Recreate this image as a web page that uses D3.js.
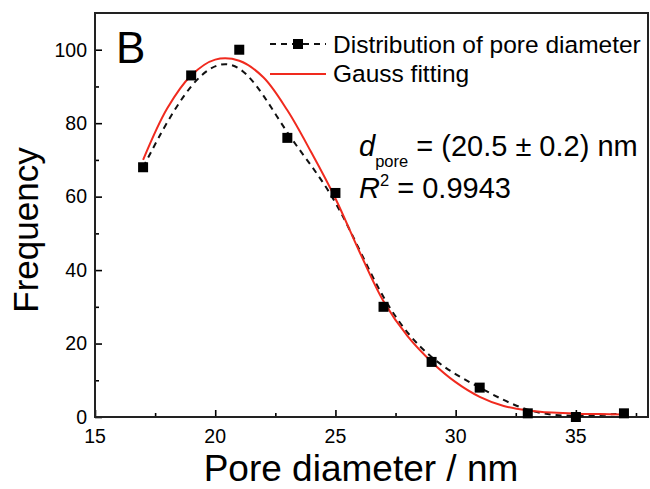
<!DOCTYPE html>
<html>
<head>
<meta charset="utf-8">
<script src="https://cdn.jsdelivr.net/npm/d3@7/dist/d3.min.js"></script>
<style>
    body { margin: 0; background: #fff; }
    svg text { font-family: Arial, "Liberation Sans", sans-serif; fill: #000; }
</style>
</head>
<body>
<svg class="chart"></svg>
<script>
// Graphic dimensions
var width = 650;
var height = 489;
var margin = {top: 13, right: 2, bottom: 72, left: 95};
var w = width - margin.left - margin.right;
var h = height - margin.top - margin.bottom;

// measured pore diameters (nm) and counts
var diameters = [17, 19, 21, 23, 25, 27, 29, 31, 33, 35, 37];
var frequency = [68, 93, 100, 76, 61, 30, 15, 8, 1, 0, 1];

// Gauss fitting curve
var fitX = [17, 18, 19, 20, 21, 22, 23, 24, 25, 26, 27, 28, 29, 30, 31, 32, 33, 34, 35, 36, 37];
var fitY = [70, 84, 93, 97.3, 97, 92.5, 83.5, 72, 59.5, 45, 31.5, 22, 15, 9.5, 5.5, 3, 1.8, 1.2, 0.9, 0.8, 0.7];

var xTicks = [15, 20, 25, 30, 35];
var yTicks = [0, 20, 40, 60, 80, 100];

var svg = d3.select(".chart")
    .attr("width", width)
    .attr("height", height);

var chart = svg.append("g")
    .attr("transform", "translate(" + margin.left + "," + margin.top + ")");

var x = d3.scaleLinear()
    .domain([15, 38])
    .range([0, w]);

var y = d3.scaleLinear()
    .domain([0, 110])
    .range([h, 0]);

// ticks point inward, minor ticks between majors
var xAxis = d3.axisTop(x).tickValues(xTicks).tickSize(7).tickFormat("");
var xMinor = d3.axisTop(x).tickValues(d3.range(17.5, 38, 5)).tickSize(4).tickFormat("");
var yAxis = d3.axisRight(y).tickValues(yTicks).tickSize(7).tickFormat("");
var yMinor = d3.axisRight(y).tickValues(d3.range(10, 110, 20)).tickSize(4).tickFormat("");

[[xAxis, "translate(0," + h + ")"], [xMinor, "translate(0," + h + ")"],
 [yAxis, "translate(0,0)"], [yMinor, "translate(0,0)"]].forEach(function(a) {
    var g = chart.append("g")
        .attr("transform", a[1])
        .call(a[0]);
    g.select(".domain").remove();
    g.selectAll("line").attr("stroke", "#000").attr("stroke-width", 1.6);
});

// tick labels
chart.selectAll(".xlab")
    .data(xTicks)
    .enter().append("text")
    .attr("x", function(d) { return x(d); })
    .attr("y", h + 26)
    .attr("text-anchor", "middle")
    .style("font-size", "19.5px")
    .text(function(d) { return d; });

chart.selectAll(".ylab")
    .data(yTicks)
    .enter().append("text")
    .attr("x", -8)
    .attr("y", function(d) { return y(d); })
    .attr("dy", "0.35em")
    .attr("text-anchor", "end")
    .style("font-size", "19.5px")
    .text(function(d) { return d; });

// frame
chart.append("rect")
    .attr("width", w)
    .attr("height", h)
    .attr("fill", "none")
    .attr("stroke", "#222")
    .attr("stroke-width", 2);

// dashed B-spline through the data
var dataLine = d3.line()
    .x(function(d, i) { return x(diameters[i]); })
    .y(function(d) { return y(d); })
    .curve(d3.curveBasis);

chart.append("path")
    .attr("d", dataLine(frequency))
    .attr("fill", "none")
    .attr("stroke", "#111")
    .attr("stroke-width", 2)
    .attr("stroke-dasharray", "6,5");

// red gauss fit
var fitLine = d3.line()
    .x(function(d, i) { return x(fitX[i]); })
    .y(function(d) { return y(d); })
    .curve(d3.curveCatmullRom);

chart.append("path")
    .attr("d", fitLine(fitY))
    .attr("fill", "none")
    .attr("stroke", "#f02a1e")
    .attr("stroke-width", 2);

// square markers
chart.selectAll(".pt")
    .data(frequency)
    .enter().append("rect")
    .attr("x", function(d, i) { return x(diameters[i]) - 5; })
    .attr("y", function(d) { return y(d) - 5; })
    .attr("width", 10)
    .attr("height", 10)
    .attr("fill", "#000");

// legend
var legend = svg.append("g");
legend.append("line")
    .attr("x1", 270).attr("x2", 326).attr("y1", 44).attr("y2", 44)
    .attr("stroke", "#111").attr("stroke-width", 2).attr("stroke-dasharray", "6,5");
legend.append("rect")
    .attr("x", 293).attr("y", 39).attr("width", 10).attr("height", 10).attr("fill", "#000");
legend.append("text")
    .attr("x", 333).attr("y", 53)
    .style("font-size", "24.5px")
    .text("Distribution of pore diameter");
legend.append("line")
    .attr("x1", 270).attr("x2", 326).attr("y1", 74).attr("y2", 74)
    .attr("stroke", "#f02a1e").attr("stroke-width", 2);
legend.append("text")
    .attr("x", 333).attr("y", 82)
    .style("font-size", "24.5px")
    .text("Gauss fitting");

// panel letter
svg.append("text")
    .attr("x", 116).attr("y", 63)
    .style("font-size", "44px")
    .text("B");

// fit result annotation
var ann = svg.append("text")
    .attr("x", 359).attr("y", 156)
    .style("font-size", "29px");
ann.append("tspan").style("font-style", "italic").text("d");
ann.append("tspan").attr("dy", 11).style("font-size", "16.5px").text("pore");
ann.append("tspan").attr("dy", -11).text(" = (20.5 \u00b1 0.2) nm");

var ann2 = svg.append("text")
    .attr("x", 359).attr("y", 198)
    .style("font-size", "29px");
ann2.append("tspan").style("font-style", "italic").text("R");
ann2.append("tspan").attr("dy", -12).style("font-size", "16.5px").text("2");
ann2.append("tspan").attr("dy", 12).text(" = 0.9943");

// axis titles
svg.append("text")
    .attr("transform", "translate(38,230) rotate(-90)")
    .attr("text-anchor", "middle")
    .style("font-size", "35px")
    .text("Frequency");

svg.append("text")
    .attr("x", 361)
    .attr("y", 481)
    .attr("text-anchor", "middle")
    .style("font-size", "37px")
    .text("Pore diameter / nm");
</script>
</body>
</html>
